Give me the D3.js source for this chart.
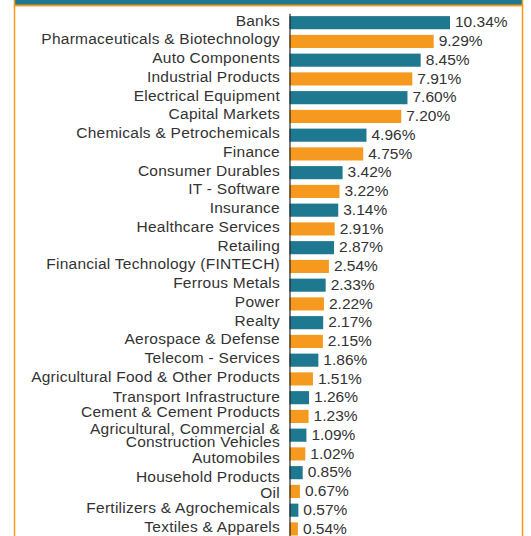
<!DOCTYPE html>
<html>
<head>
<meta charset="utf-8">
<script src="https://cdn.jsdelivr.net/npm/d3@7"></script>
<style>
  body { margin: 0; background: #fff; }
  svg { display: block; font-family: "Liberation Sans", Arial, sans-serif; }
</style>
</head>
<body>
<div id="chart"></div>
<script>
const sectors = [
  'Banks', 'Pharmaceuticals & Biotechnology', 'Auto Components', 'Industrial Products',
  'Electrical Equipment', 'Capital Markets', 'Chemicals & Petrochemicals', 'Finance',
  'Consumer Durables', 'IT - Software', 'Insurance', 'Healthcare Services', 'Retailing',
  'Financial Technology (FINTECH)', 'Ferrous Metals', 'Power', 'Realty',
  'Aerospace & Defense', 'Telecom - Services', 'Agricultural Food & Other Products',
  'Transport Infrastructure', 'Cement & Cement Products',
  'Agricultural, Commercial & Construction Vehicles', 'Automobiles',
  'Household Products', 'Oil', 'Fertilizers & Agrochemicals', 'Textiles & Apparels'
];
const weights = [
  10.34, 9.29, 8.45, 7.91, 7.60, 7.20, 4.96, 4.75, 3.42, 3.22, 3.14, 2.91, 2.87, 2.54,
  2.33, 2.22, 2.17, 2.15, 1.86, 1.51, 1.26, 1.23, 1.09, 1.02, 0.85, 0.67, 0.57, 0.54
];
// long names broken onto two lines
const wrappedLabels = {
  'Agricultural, Commercial & Construction Vehicles': ['Agricultural, Commercial &', 'Construction Vehicles']
};
// labels pushed aside to make room for the two-line label
const labelNudge = {
  'Transport Infrastructure': 1.5,
  'Cement & Cement Products': -2,
  'Agricultural, Commercial & Construction Vehicles': 2,
  'Automobiles': 6.5,
  'Household Products': 6.5,
  'Oil': 4
};
const barColors = ['#1e7890', '#f59a1f'];

const width = 531, height = 536;
const axisX = 289.5;
const rowStep = 18.75;

const svg = d3.select('#chart')
  .append('svg')
    .attr('width', width)
    .attr('height', height);

// frame: cut-off header band and side borders
svg.append('rect')
    .attr('x', 14.5).attr('y', -20)
    .attr('width', 508).attr('height', 25.5)
    .attr('fill', '#1e7890')
    .attr('stroke', '#f59a1f')
    .attr('stroke-width', 1.5);
svg.append('rect')
    .attr('x', 14.5).attr('y', 5.5)
    .attr('width', 508).attr('height', 540)
    .attr('fill', 'none')
    .attr('stroke', '#f59a1f')
    .attr('stroke-width', 1.5);

const y = d3.scaleBand()
    .domain(sectors)
    .range([13.3, 13.3 + rowStep * 28])
    .paddingInner(0.3)
    .paddingOuter(0.15);

const x = d3.scaleLinear()
    .domain([0, 10.34])
    .range([axisX, axisX + 160.5]);

const data = sectors.map((s, i) => ({ name: s, value: weights[i] }));

const bars = svg.append('g').attr('class', 'bars');
bars.selectAll('rect')
  .data(data)
  .enter().append('rect')
    .attr('x', x(0))
    .attr('y', d => y(d.name))
    .attr('width', d => x(d.value) - x(0))
    .attr('height', y.bandwidth())
    .attr('fill', (d, i) => barColors[i % 2]);

bars.selectAll('text.value')
  .data(data)
  .enter().append('text')
    .attr('class', 'value')
    .attr('x', d => x(d.value) + 5)
    .attr('y', d => y(d.name) + y.bandwidth() / 2 + 4.8)
    .attr('font-size', 15.5)
    .attr('fill', '#333')
    .text(d => d.value.toFixed(2) + '%');

// category axis
const axis = svg.append('g')
    .attr('class', 'axis-y')
    .attr('transform', 'translate(' + axisX + ',0)')
    .call(d3.axisLeft(y).tickSize(0).tickFormat(''));
axis.select('.domain').attr('stroke', '#222').attr('stroke-width', 1.2);

const labels = svg.append('g').attr('class', 'labels');
data.forEach((d) => {
  const cy = y(d.name) + y.bandwidth() / 2 + (labelNudge[d.name] || 0);
  const lines = wrappedLabels[d.name] || [d.name];
  const t = labels.append('text')
      .attr('text-anchor', 'end')
      .attr('font-size', 15.5)
      .attr('letter-spacing', 0.25)
      .attr('fill', '#333');
  lines.forEach((line, j) => {
    t.append('tspan')
      .attr('x', axisX - 9.5)
      .attr('y', cy + 3 + (j - (lines.length - 1) / 2) * 13)
      .text(line);
  });
});
</script>
</body>
</html>
